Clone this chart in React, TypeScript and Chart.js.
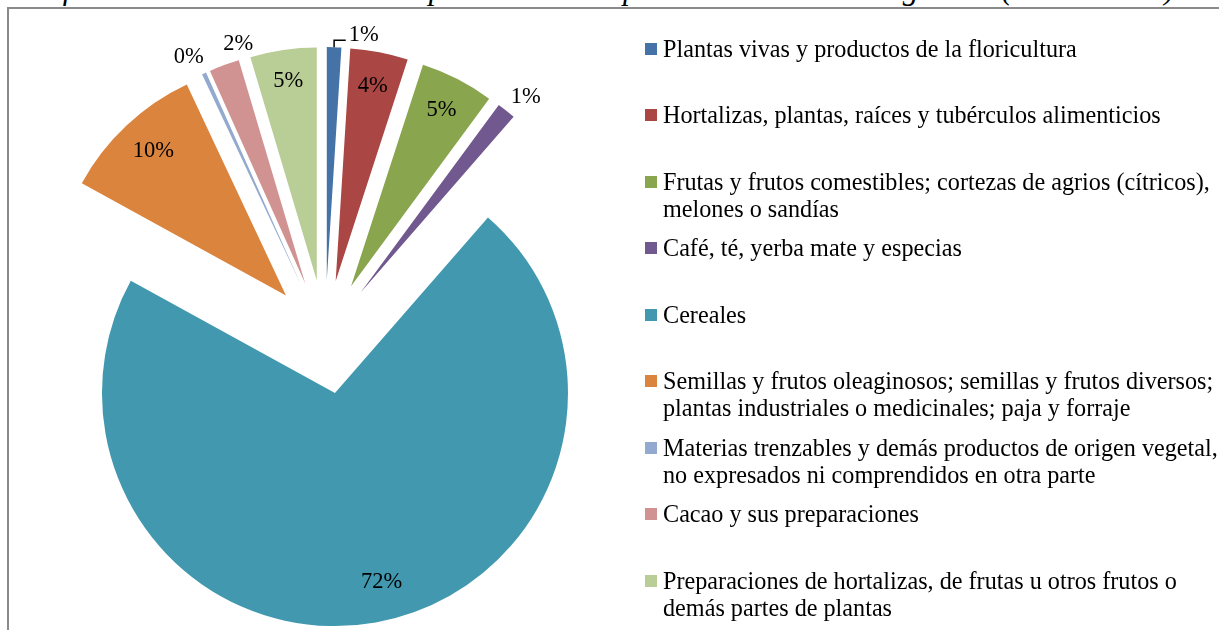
import React, { useEffect, useRef } from "react";
import { Chart, registerables } from "chart.js";

Chart.register(...registerables);

// ---------- data ----------
const categories: string[] = [
  "Plantas vivas y productos de la floricultura",
  "Hortalizas, plantas, raíces y tubérculos alimenticios",
  "Frutas y frutos comestibles; cortezas de agrios (cítricos),\nmelones o sandías",
  "Café, té, yerba mate y especias",
  "Cereales",
  "Semillas y frutos oleaginosos; semillas y frutos diversos;\nplantas industriales o medicinales; paja y forraje",
  "Materias trenzables y demás productos de origen vegetal,\nno expresados ni comprendidos en otra parte",
  "Cacao y sus preparaciones",
  "Preparaciones de hortalizas, de frutas u otros frutos o\ndemás partes de plantas",
];

const shares: number[] = [1.0, 4.0, 5.1, 1.3, 71.6, 10.0, 0.3, 2.1, 4.6];

const sliceColors: string[] = [
  "#4572A7",
  "#AA4643",
  "#89A54E",
  "#71588F",
  "#4198AF",
  "#DB843D",
  "#93A9CF",
  "#D19392",
  "#B9CD96",
];

const titleText =
  "Gráfico N° 3.1: Estructura de importaciones de productos del sector agrícola (2000 - 2010)";

// ---------- layout / style (not data) ----------
const FONT = '"Liberation Serif", "Times New Roman", serif';
const EXPLODE = 57;
const RADIUS = 233;

const labelPlacement: { outside: boolean; dx?: number; dy?: number; leader?: boolean }[] = [
  { outside: true, dx: 29, dy: 8, leader: true },
  { outside: false },
  { outside: false },
  { outside: true, dx: 7, dy: 2 },
  { outside: false, dx: 12, dy: -6 },
  { outside: false, dx: 3 },
  { outside: true, dx: -7, dy: 2 },
  { outside: true, dx: 21, dy: -2 },
  { outside: false, dy: -4 },
];

const explodePlugin = {
  id: "explodeSlices",
  afterDatasetUpdate(chart: any, args: any) {
    args.meta.data.forEach((arc: any) => {
      const mid = (arc.startAngle + arc.endAngle) / 2;
      arc.x += Math.cos(mid) * EXPLODE;
      arc.y += Math.sin(mid) * EXPLODE;
    });
  },
};

const labelPlugin = {
  id: "sliceLabels",
  afterDatasetsDraw(chart: any) {
    const ctx = chart.ctx as CanvasRenderingContext2D;
    const meta = chart.getDatasetMeta(0);
    const values = chart.data.datasets[0].data as number[];
    const total = values.reduce((a, b) => a + b, 0);
    ctx.save();
    ctx.font = `22.5px ${FONT}`;
    ctx.textAlign = "center";
    ctx.textBaseline = "middle";
    ctx.fillStyle = "#000";
    ctx.strokeStyle = "#000";
    ctx.lineWidth = 1.5;
    meta.data.forEach((arc: any, i: number) => {
      const { x, y, startAngle, endAngle, outerRadius } = arc;
      const mid = (startAngle + endAngle) / 2;
      const p = labelPlacement[i];
      const dist = p.outside ? outerRadius + 20 : outerRadius * 0.85;
      const lx = x + Math.cos(mid) * dist + (p.dx || 0);
      const ly = y + Math.sin(mid) * dist + (p.dy || 0);
      const text = Math.round((values[i] / total) * 100) + "%";
      if (p.leader) {
        const ax = x + Math.cos(mid) * outerRadius;
        const ay = y + Math.sin(mid) * outerRadius;
        const w = ctx.measureText(text).width;
        ctx.beginPath();
        ctx.moveTo(ax, ay);
        ctx.lineTo(ax, ay - 7);
        ctx.lineTo(lx - w / 2 - 3, ay - 7);
        ctx.stroke();
      }
      ctx.fillText(text, lx, ly);
    });
    ctx.restore();
  },
};

export default function App() {
  const canvasRef = useRef<HTMLCanvasElement | null>(null);

  useEffect(() => {
    if (!canvasRef.current) return;
    const chart = new Chart(canvasRef.current, {
      type: "pie",
      data: {
        labels: categories,
        datasets: [
          {
            data: shares,
            backgroundColor: sliceColors,
            borderWidth: 0,
            clip: false as any,
          } as any,
        ],
      },
      options: {
        responsive: false,
        animation: false,
        events: [],
        radius: RADIUS,
        layout: { padding: { left: 0, top: 44, right: 569, bottom: 0 } },
        plugins: {
          legend: { display: false },
          tooltip: { enabled: false },
          title: { display: false },
        },
      } as any,
      plugins: [explodePlugin, labelPlugin],
    });
    return () => chart.destroy();
  }, []);

  return (
    <div
      style={{
        position: "fixed",
        left: 0,
        top: 0,
        width: 1219,
        height: 630,
        overflow: "hidden",
        background: "#fff",
        fontFamily: FONT,
      }}
    >
      <div
        style={{
          position: "absolute",
          left: 12,
          top: -27,
          fontSize: 31.5,
          lineHeight: "31.5px",
          fontStyle: "italic",
          whiteSpace: "nowrap",
          color: "#000",
        }}
      >
        {titleText}
      </div>
      <div
        style={{
          position: "absolute",
          left: 7,
          top: 7,
          width: 1230,
          height: 640,
          borderTop: "2px solid #8a8a8a",
          borderLeft: "2px solid #8a8a8a",
        }}
      />
      <canvas
        ref={canvasRef}
        width={1219}
        height={630}
        style={{ position: "absolute", left: 0, top: 0, width: 1219, height: 630 }}
      />
      {categories.map((c, i) => (
        <div
          key={i}
          style={{
            position: "absolute",
            left: 645,
            top: 48 + 66.5 * i - 13.5,
            display: "flex",
            alignItems: "flex-start",
            fontSize: 24.2,
            lineHeight: "27px",
            color: "#000",
          }}
        >
          <span
            style={{
              display: "inline-block",
              width: 12,
              height: 12,
              marginTop: 8,
              marginRight: 6,
              background: sliceColors[i],
              flex: "none",
            }}
          />
          <span style={{ whiteSpace: "pre" }}>{c}</span>
        </div>
      ))}
    </div>
  );
}
